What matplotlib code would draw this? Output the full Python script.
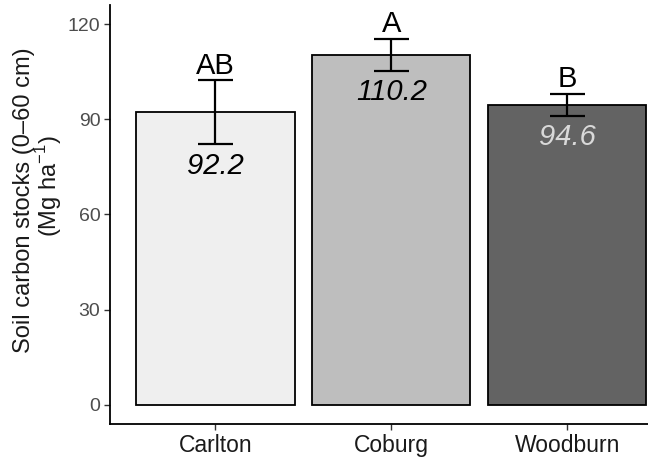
import matplotlib
matplotlib.use("Agg")
import matplotlib.pyplot as plt
import numpy as np

plt.rcParams["font.family"] = ["Liberation Sans", "DejaVu Sans"]
plt.rcParams["mathtext.fontset"] = "custom"
plt.rcParams["mathtext.rm"] = "Liberation Sans"

# data
sites = ["Carlton", "Coburg", "Woodburn"]
means = [92.2, 110.2, 94.6]
se = [10.1, 5.05, 3.45]
letters = ["AB", "A", "B"]
fills = ["#EFEFEF", "#BEBEBE", "#636363"]
value_colors = ["black", "black", "#D9D9D9"]
yticks = [0, 30, 60, 90, 120]

W, H = 648, 461
fig = plt.figure(figsize=(W / 100, H / 100), dpi=100)
ax = fig.add_axes([110 / W, 37 / H, 562.6 / W, 419 / H])

x = np.arange(1, len(sites) + 1)
ax.bar(x, means, width=0.9, color=fills, edgecolor="black", linewidth=1.3, zorder=2)
ax.errorbar(x, means, yerr=se, fmt="none", ecolor="black", elinewidth=1.6,
            capsize=0, zorder=3)
# caps drawn as short lines, ggplot-like width
for xi, m, s in zip(x, means, se):
    for yv in (m - s, m + s):
        ax.plot([xi - 0.1, xi + 0.1], [yv, yv], color="black", lw=1.6, zorder=3,
                solid_capstyle="butt")

for xi, m, s, lab, vc in zip(x, means, se, letters, value_colors):
    ax.text(xi, m - s - 2.3, f"{m:.1f}", ha="center", va="top", fontsize=21,
            style="italic", color=vc, zorder=4)
    ax.text(xi, m + s + 0.2, lab, ha="center", va="bottom", fontsize=21,
            color="black", zorder=4)

ax.set_xlim(0.4, 3.6)
ax.set_ylim(-6, 126)
ax.set_xticks(x)
ax.set_xticklabels(sites, fontsize=16.5, color="#1A1A1A")
ax.set_yticks(yticks)
ax.set_yticklabels([str(v) for v in yticks], fontsize=14, color="#4D4D4D")
ax.tick_params(axis="both", length=4, width=1, color="#333333")
ax.tick_params(axis="x", pad=3)
ax.tick_params(axis="y", pad=3)

for side in ["top", "right"]:
    ax.spines[side].set_visible(False)
for side in ["left", "bottom"]:
    ax.spines[side].set_linewidth(1.3)
    ax.spines[side].set_color("black")

# two-line y label, placed like the reference
fig.text(24 / W, 1 - 200 / H, "Soil carbon stocks (0\u201360 cm)", rotation=90,
         ha="center", va="center", fontsize=17, color="#1A1A1A")
fig.text(49 / W, 1 - 186 / H, "(Mg ha$^{\\mathregular{-1}}$)", rotation=90,
         ha="center", va="center", fontsize=17, color="#1A1A1A")

fig.savefig("out.png", dpi=100)
